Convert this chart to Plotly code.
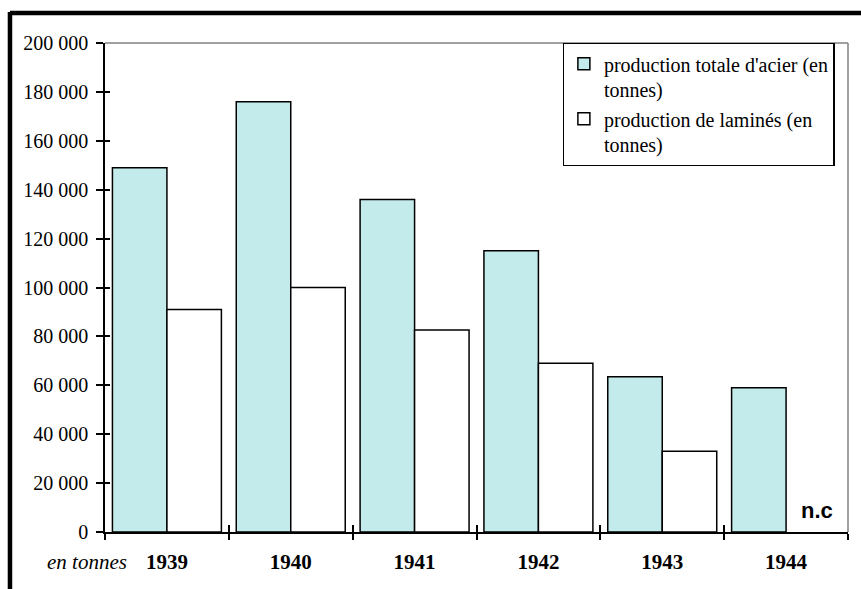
import plotly.graph_objects as go

# Steel output by year (tonnes)
years = ["1939", "1940", "1941", "1942", "1943", "1944"]
acier_total = [149000, 176000, 136000, 115000, 63500, 59000]
lamines = [91000, 100000, 82600, 69000, 33000, None]  # 1944: n.c (not communicated)

y_ticks = [0, 20000, 40000, 60000, 80000, 100000, 120000, 140000, 160000, 180000, 200000]

serif = "Liberation Serif"

fig = go.Figure()
fig.add_trace(go.Bar(
    x=years, y=acier_total,
    name="production totale d'acier (en<br>tonnes)",
    marker=dict(color="#C4EBEB", line=dict(color="black", width=1.5)),
))
fig.add_trace(go.Bar(
    x=years, y=lamines,
    name="production de laminés (en<br>tonnes)",
    marker=dict(color="white", line=dict(color="black", width=1.5)),
))

# invisible helper trace so the overlay axes (inner halves of the crossing ticks) render
fig.add_trace(go.Scatter(x=[-0.5, 5.5], y=[0, 0], xaxis="x2", yaxis="y2",
                         mode="lines", line=dict(width=0), showlegend=False,
                         hoverinfo="skip"))

fig.update_layout(
    width=861, height=589,
    margin=dict(l=105, r=13, t=43, b=57),
    paper_bgcolor="white", plot_bgcolor="white",
    separators=", ",
    barmode="group", bargap=0.12, bargroupgap=0,
    font=dict(family=serif, size=20, color="black"),
    showlegend=True,
    legend=dict(
        x=0.616, y=1.0, xanchor="left", yanchor="top",
        bgcolor="white", bordercolor="black", borderwidth=1.2,
        font=dict(family=serif, size=20, color="black"),
        valign="top", itemwidth=30, tracegroupgap=2,
    ),
    xaxis=dict(
        type="category", range=[-0.5, 5.5],
        showline=True, linecolor="black", linewidth=1.5,
        ticks="outside", tickson="boundaries", ticklen=6, tickwidth=1.5,
        tickcolor="black", showgrid=False, ticklabelstandoff=10,
        tickfont=dict(family=serif, size=21, color="black", weight="bold"),
    ),
    xaxis2=dict(
        overlaying="x", anchor="y", range=[-0.5, 5.5],
        tickvals=[-0.5, 0.5, 1.5, 2.5, 3.5, 4.5, 5.5], showticklabels=False,
        ticks="inside", ticklen=7, tickwidth=1.5, tickcolor="black",
        showgrid=False, zeroline=False, showline=False, side="bottom",
    ),
    yaxis=dict(
        range=[0, 200000], tickvals=y_ticks, tickformat=",d",
        showline=True, linecolor="black", linewidth=1.5,
        ticks="outside", ticklen=7, tickwidth=1.5, tickcolor="black",
        showgrid=False, zeroline=False, ticklabelstandoff=4,
        tickfont=dict(family=serif, size=20, color="black"),
    ),
    yaxis2=dict(
        overlaying="y", anchor="x", range=[0, 200000], side="left",
        tickvals=y_ticks, showticklabels=False,
        ticks="inside", ticklen=5, tickwidth=1.5, tickcolor="black",
        showgrid=False, zeroline=False, showline=False,
    ),
)

# grey top and right edges of the plotting area
fig.add_shape(type="line", xref="paper", yref="paper", x0=0, x1=1, y0=1, y1=1,
              line=dict(color="#808080", width=1.5))
fig.add_shape(type="line", xref="paper", yref="paper", x0=1, x1=1, y0=0, y1=1,
              line=dict(color="#808080", width=1.5))

# heavy frame on the left and top
fig.add_shape(type="line", xref="paper", yref="paper",
              x0=-0.1279, x1=-0.1279, y0=-0.2, y1=1.0634,
              line=dict(color="black", width=4.5))
fig.add_shape(type="line", xref="paper", yref="paper",
              x0=-0.1279, x1=1.05, y0=1.0614, y1=1.0614,
              line=dict(color="black", width=4.5))

fig.add_annotation(text="<i>en tonnes</i>", xref="paper", yref="paper",
                   x=-0.0242, y=-0.0623, xanchor="center", yanchor="middle",
                   showarrow=False, font=dict(family=serif, size=21, color="black"))
fig.add_annotation(text="<b>n.c</b>", x=5.25, y=9000, xanchor="center", yanchor="middle",
                   showarrow=False,
                   font=dict(family="Liberation Sans", size=22, color="black"))

fig.write_html("out.html")
